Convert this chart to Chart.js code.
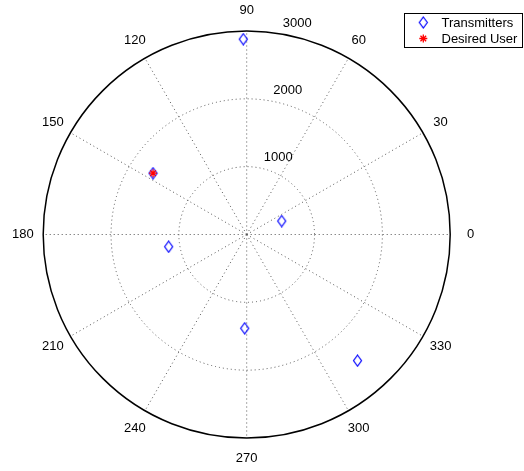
<!DOCTYPE html>
<html>
<head>
<meta charset="utf-8">
<script src="https://cdn.jsdelivr.net/npm/chart.js@4"></script>
<style>
  html, body { margin: 0; padding: 0; background: #fff; }
  canvas { display: block; }
</style>
</head>
<body>
<canvas id="polar" width="524" height="471"></canvas>
<script>
// polar data: angle in degrees, range
const seriesNames = ['Transmitters', 'Desired User'];
const txAngles = [91, 146.8, 21, 188.9, 268.8, 311.3];
const txRanges = [2880, 1650, 553, 1165, 1383, 2475];
const userAngles = [146.8];
const userRanges = [1650];
const ringTicks = [1000, 2000, 3000];
const angleTicks = [0, 30, 60, 90, 120, 150, 180, 210, 240, 270, 300, 330];

const rMax = 3000;
const FONT = '13px "Liberation Sans", Arial, sans-serif';

// pixel layout of the plot
const cx = 246.7, cy = 234.5, rPix = 203.5;
const W = 524, H = 471;
const k = rPix / rMax;

function toXY(angles, ranges) {
  return angles.map((a, i) => ({
    x: ranges[i] * Math.cos(a * Math.PI / 180),
    y: ranges[i] * Math.sin(a * Math.PI / 180)
  }));
}

// diamond marker (a bit taller than wide, like matlab)
const diamond = document.createElement('canvas');
diamond.width = 11; diamond.height = 13;
(function () {
  const g = diamond.getContext('2d');
  g.strokeStyle = '#0000ff';
  g.lineWidth = 1.2;
  g.beginPath();
  g.moveTo(5.5, 1);
  g.lineTo(9.5, 6.5);
  g.lineTo(5.5, 12);
  g.lineTo(1.5, 6.5);
  g.closePath();
  g.stroke();
})();

const polarGrid = {
  id: 'polarGrid',
  beforeDatasetsDraw(chart) {
    const ctx = chart.ctx;
    const xs = chart.scales.x, ys = chart.scales.y;
    const px = v => xs.getPixelForValue(v);
    const py = v => ys.getPixelForValue(v);
    const ox = px(0), oy = py(0);
    const rad = v => px(v) - ox;

    ctx.save();
    // dotted rings
    ctx.strokeStyle = '#555';
    ctx.lineWidth = 1;
    ctx.setLineDash([1, 3]);
    ringTicks.slice(0, -1).forEach(r => {
      ctx.beginPath();
      ctx.arc(ox, oy, rad(r), 0, Math.PI * 2);
      ctx.stroke();
    });
    // spokes
    angleTicks.forEach(a => {
      const t = a * Math.PI / 180;
      ctx.beginPath();
      ctx.moveTo(ox, oy);
      ctx.lineTo(px(rMax * Math.cos(t)), py(rMax * Math.sin(t)));
      ctx.stroke();
    });
    ctx.setLineDash([]);
    // outer circle
    ctx.strokeStyle = '#000';
    ctx.lineWidth = 1.5;
    ctx.beginPath();
    ctx.arc(ox, oy, rad(rMax), 0, Math.PI * 2);
    ctx.stroke();

    // angle labels
    ctx.fillStyle = '#000';
    ctx.font = FONT;
    ctx.textAlign = 'center';
    ctx.textBaseline = 'middle';
    angleTicks.forEach(a => {
      const t = a * Math.PI / 180;
      ctx.fillText(String(a), px(1.1 * rMax * Math.cos(t)), py(1.1 * rMax * Math.sin(t)));
    });
    // range labels at 82 degrees
    const t82 = 82 * Math.PI / 180;
    ctx.textAlign = 'left';
    ctx.textBaseline = 'bottom';
    ringTicks.forEach(r => {
      const rr = r + rMax / 3 / 20;
      ctx.fillText('  ' + r, px(rr * Math.cos(t82)), py(rr * Math.sin(t82)));
    });
    ctx.restore();
  },
  afterDraw(chart) {
    const ctx = chart.ctx;
    ctx.save();
    // legend box
    ctx.fillStyle = '#fff';
    ctx.fillRect(404.5, 13.5, 118, 34);
    ctx.strokeStyle = '#000';
    ctx.lineWidth = 1;
    ctx.strokeRect(404.5, 13.5, 118, 34);
    ctx.font = FONT;
    ctx.fillStyle = '#000';
    ctx.textAlign = 'left';
    ctx.textBaseline = 'middle';
    const rows = [22.5, 38.5];
    chart.data.datasets.forEach((ds, i) => {
      ctx.strokeStyle = ds.borderColor;
      ctx.lineWidth = ds.borderWidth;
      Chart.helpers.drawPoint(ctx, {
        pointStyle: ds.pointStyle, radius: ds.pointRadius, rotation: 0, borderWidth: ds.borderWidth
      }, 423.3, rows[i]);
      ctx.fillStyle = '#000';
      ctx.fillText(ds.label, 441.5, rows[i] + 0.5);
    });
    ctx.restore();
  }
};

new Chart(document.getElementById('polar'), {
  type: 'scatter',
  data: {
    datasets: [{
      label: seriesNames[0],
      data: toXY(txAngles, txRanges),
      pointStyle: diamond,
      pointRadius: 5,
      borderColor: '#0000ff',
      backgroundColor: 'transparent',
      borderWidth: 1,
      order: 1
    }, {
      label: seriesNames[1],
      data: toXY(userAngles, userRanges),
      pointStyle: 'star',
      pointRadius: 4,
      borderColor: '#ff0000',
      backgroundColor: '#ff0000',
      borderWidth: 1.3,
      order: 0
    }]
  },
  options: {
    responsive: false,
    animation: false,
    clip: false,
    layout: { padding: 0, autoPadding: false },
    plugins: { legend: { display: false }, tooltip: { enabled: false } },
    elements: { point: { hoverRadius: 5 } },
    scales: {
      x: { display: false, min: -cx / k, max: (W - cx) / k },
      y: { display: false, min: -(H - cy) / k, max: cy / k }
    }
  },
  plugins: [polarGrid]
});
</script>
</body>
</html>
